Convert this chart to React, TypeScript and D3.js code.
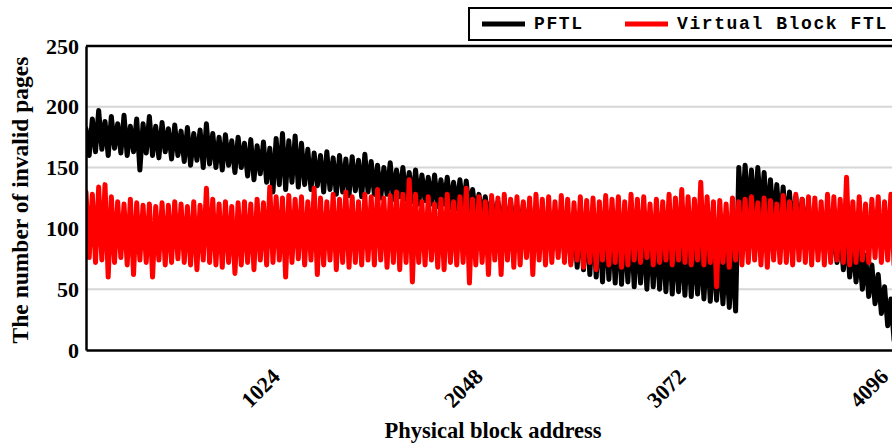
import React, { useEffect, useRef } from "react";
import * as d3 from "d3";

// samples every 16 blocks starting at block 40
const firstBlock = 40;
const blockStep = 16;

const pftl = [
  182, 160, 190, 163, 197, 165, 188, 160, 192, 166,
  186, 162, 193, 160, 184, 163, 190, 148, 186, 162,
  192, 160, 184, 158, 187, 163, 182, 157, 185, 160,
  180, 155, 183, 152, 178, 156, 181, 150, 186, 153,
  178, 150, 175, 148, 177, 152, 172, 146, 175, 150,
  170, 143, 173, 140, 168, 145, 171, 138, 166, 130,
  174, 136, 178, 132, 172, 138, 176, 134, 170, 136,
  165, 132, 162, 135, 160, 130, 163, 132, 158, 128,
  160, 130, 157, 127, 159, 131, 156, 126, 161, 130,
  155, 128, 152, 125, 150, 128, 154, 124, 148, 126,
  150, 124, 146, 122, 148, 120, 144, 123, 142, 120,
  144, 118, 140, 120, 142, 117, 138, 116, 140, 114,
  139, 112, 132, 110, 128, 108, 126, 106, 124, 104,
  122, 102, 120, 100, 122, 98, 118, 96, 120, 95,
  118, 92, 117, 90, 115, 88, 116, 85, 113, 82,
  115, 78, 112, 72, 110, 68, 113, 66, 110, 62,
  112, 60, 108, 56, 110, 58, 106, 55, 108, 54,
  104, 56, 106, 52, 102, 55, 100, 50, 103, 52,
  98, 50, 96, 48, 98, 46, 94, 48, 92, 45,
  94, 44, 90, 46, 88, 42, 90, 40, 86, 41,
  84, 38, 82, 35, 80, 32, 150, 108, 152, 110,
  148, 106, 150, 110, 146, 104, 140, 102, 136, 100,
  134, 100, 130, 98, 126, 96, 124, 92, 120, 90,
  116, 86, 112, 80, 110, 76, 104, 72, 100, 66,
  96, 60, 90, 56, 84, 50, 78, 44, 70, 38,
  62, 30, 52, 20, 42, 8, 30, 3,
];

const virtualBlockFtl = [
  130, 76, 128, 72, 134, 74, 136, 60, 126, 72,
  122, 76, 120, 70, 124, 62, 121, 74, 119, 72,
  120, 60, 118, 74, 121, 70, 119, 72, 122, 75,
  120, 72, 118, 70, 122, 66, 119, 74, 133, 72,
  124, 70, 120, 68, 122, 72, 118, 63, 121, 70,
  122, 72, 120, 66, 124, 74, 121, 70, 134, 72,
  126, 74, 125, 60, 127, 72, 124, 75, 126, 70,
  122, 74, 133, 62, 125, 70, 122, 74, 128, 66,
  124, 72, 130, 68, 126, 72, 122, 70, 128, 74,
  126, 70, 132, 74, 125, 68, 127, 72, 130, 66,
  128, 72, 140, 56, 128, 72, 122, 70, 126, 74,
  120, 68, 124, 66, 128, 72, 122, 70, 126, 72,
  133, 55, 124, 70, 126, 72, 122, 62, 127, 74,
  125, 62, 128, 74, 124, 68, 126, 70, 122, 76,
  125, 62, 128, 74, 124, 70, 126, 72, 122, 76,
  127, 72, 124, 70, 121, 74, 126, 68, 123, 72,
  125, 66, 122, 74, 127, 70, 124, 72, 126, 68,
  122, 70, 128, 74, 124, 72, 126, 76, 120, 70,
  124, 72, 122, 74, 128, 70, 125, 74, 132, 72,
  126, 70, 124, 74, 138, 70, 126, 72, 122, 52,
  123, 72, 120, 68, 125, 74, 122, 70, 124, 72,
  126, 74, 121, 70, 125, 68, 123, 74, 120, 72,
  127, 72, 122, 70, 128, 74, 124, 72, 126, 70,
  125, 74, 122, 70, 128, 72, 126, 74, 124, 72,
  142, 70, 122, 72, 126, 74, 120, 72, 124, 76,
  126, 72, 122, 74, 128, 70, 124, 72,
];

const yTicks = [0, 50, 100, 150, 200, 250];
const gridValues = [50, 100, 150, 200];
const xTicks = [1024, 2048, 3072, 4096];

const seriesNames = ["PFTL", "Virtual Block FTL"];
const seriesColors = ["#000000", "#ff0000"];

const serif = "'Liberation Serif', 'Times New Roman', serif";
const mono = "'Liberation Mono', 'Courier New', monospace";

const App = () => {
  const svgRef = useRef(null);

  useEffect(() => {
    if (!svgRef.current) return;
    document.body.style.margin = "0";

    const width = 892;
    const height = 445;
    const left = 86;
    const right = 900;
    const top = 46;
    const bottom = 350;

    const x = d3.scaleLinear().domain([40, 4150]).range([left, right]);
    const y = d3.scaleLinear().domain([0, 250]).range([bottom, top]);

    const svg = d3.select(svgRef.current);
    svg.selectAll("*").remove();
    svg.attr("width", width).attr("height", height);

    svg
      .append("defs")
      .append("clipPath")
      .attr("id", "plot-clip")
      .append("rect")
      .attr("x", left)
      .attr("y", top)
      .attr("width", right - left)
      .attr("height", bottom - top);

    // horizontal grid
    svg
      .append("g")
      .selectAll("line")
      .data(gridValues)
      .join("line")
      .attr("x1", left)
      .attr("x2", width)
      .attr("y1", (d) => y(d))
      .attr("y2", (d) => y(d))
      .attr("stroke", "#d6d6d6")
      .attr("stroke-width", 2);

    // series lines
    const line = d3
      .line<number>()
      .x((d, i) => x(firstBlock + i * blockStep))
      .y((d) => y(d));

    const plot = svg.append("g").attr("clip-path", "url(#plot-clip)");
    [pftl, virtualBlockFtl].forEach((values, k) => {
      plot
        .append("path")
        .datum(values)
        .attr("d", line)
        .attr("fill", "none")
        .attr("stroke", seriesColors[k])
        .attr("stroke-width", 5)
        .attr("stroke-linejoin", "round")
        .attr("stroke-linecap", "round");
    });

    // y axis
    const yAxis = d3.axisLeft(y).tickValues(yTicks).tickSize(0).tickPadding(7);
    const yG = svg.append("g").attr("transform", `translate(${left},0)`).call(yAxis);
    yG.select(".domain").attr("stroke", "#000").attr("stroke-width", 2.5);
    yG.selectAll("text")
      .attr("font-family", serif)
      .attr("font-weight", "bold")
      .attr("font-size", 22)
      .attr("fill", "#000");

    // top border
    svg
      .append("line")
      .attr("x1", left)
      .attr("x2", width)
      .attr("y1", top)
      .attr("y2", top)
      .attr("stroke", "#000")
      .attr("stroke-width", 2.5);

    // x axis
    const xAxis = d3.axisBottom(x).tickValues(xTicks).tickSize(0).tickFormat(d3.format("d"));
    const xG = svg.append("g").attr("transform", `translate(0,${bottom})`).call(xAxis);
    xG.select(".domain").attr("stroke", "#000").attr("stroke-width", 2.5);
    xG.selectAll("text")
      .attr("x", 0)
      .attr("y", 0)
      .attr("dy", 0)
      .attr("transform", "translate(0,28) rotate(-45)")
      .attr("text-anchor", "end")
      .attr("font-family", serif)
      .attr("font-weight", "bold")
      .attr("font-size", 22)
      .attr("fill", "#000");

    // axis titles
    svg
      .append("text")
      .attr("transform", `translate(28,${(top + bottom) / 2 + 2}) rotate(-90)`)
      .attr("text-anchor", "middle")
      .attr("font-family", serif)
      .attr("font-weight", "bold")
      .attr("font-size", 23.5)
      .text("The number of invalid pages");

    svg
      .append("text")
      .attr("x", 493)
      .attr("y", 438)
      .attr("text-anchor", "middle")
      .attr("font-family", serif)
      .attr("font-weight", "bold")
      .attr("font-size", 22.5)
      .text("Physical block address");

    // legend
    const legend = svg.append("g").attr("transform", "translate(469,8)");
    legend
      .append("rect")
      .attr("width", 440)
      .attr("height", 32)
      .attr("fill", "#fff")
      .attr("stroke", "#000")
      .attr("stroke-width", 2);
    const legendX = [13, 156];
    seriesNames.forEach((name, k) => {
      const g = legend.append("g").attr("transform", `translate(${legendX[k]},16)`);
      g.append("line")
        .attr("x1", 0)
        .attr("x2", 43)
        .attr("stroke", seriesColors[k])
        .attr("stroke-width", 5);
      g.append("text")
        .attr("x", 52)
        .attr("y", 5)
        .attr("font-family", mono)
        .attr("font-weight", "bold")
        .attr("font-size", 18)
        .attr("letter-spacing", 1.6)
        .text(name);
    });
  }, []);

  return <svg ref={svgRef} style={{ display: "block" }}></svg>;
};

export default App;
